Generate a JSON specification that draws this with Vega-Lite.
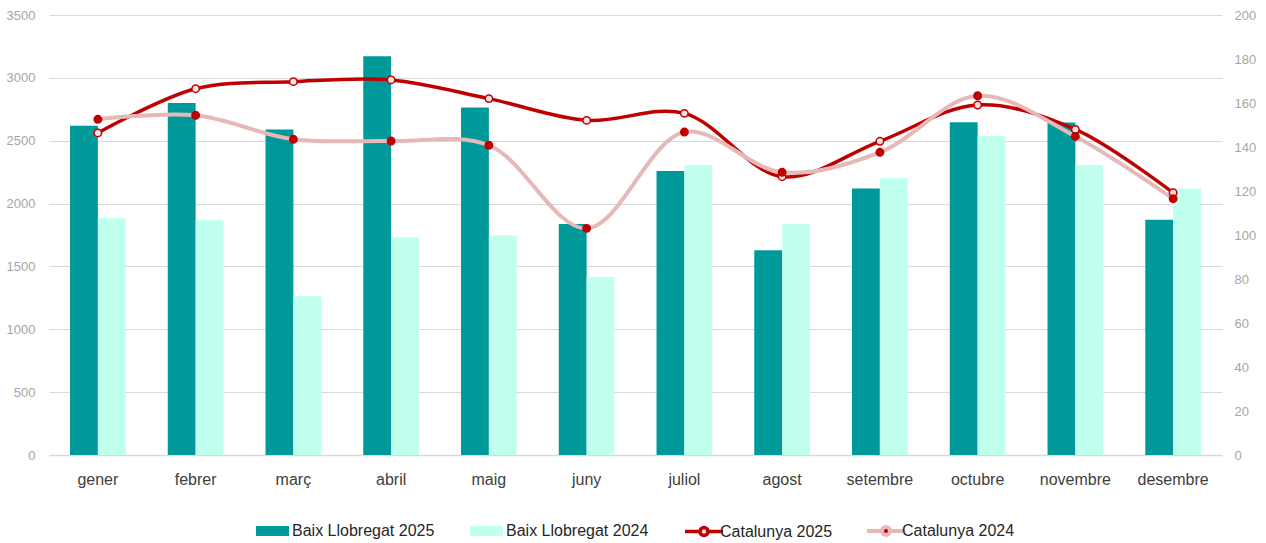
{
  "$schema": "https://vega.github.io/schema/vega-lite/v6.json",
  "width": 1173,
  "height": 440,
  "autosize": {"type": "none"},
  "padding": {"left": 49, "top": 15, "right": 44, "bottom": 88},
  "background": "white",
  "config": {
    "view": {"stroke": null},
    "font": "Liberation Sans",
    "axis": {"labelFont": "Liberation Sans", "titleFont": "Liberation Sans"},
    "legend": {"labelFont": "Liberation Sans"}
  },
  "datasets": {
    "bars": [
      {"month": "gener", "series": "Baix Llobregat 2025", "value": 2620},
      {"month": "febrer", "series": "Baix Llobregat 2025", "value": 2800},
      {"month": "març", "series": "Baix Llobregat 2025", "value": 2590},
      {"month": "abril", "series": "Baix Llobregat 2025", "value": 3172},
      {"month": "maig", "series": "Baix Llobregat 2025", "value": 2765},
      {"month": "juny", "series": "Baix Llobregat 2025", "value": 1838},
      {"month": "juliol", "series": "Baix Llobregat 2025", "value": 2259},
      {"month": "agost", "series": "Baix Llobregat 2025", "value": 1628},
      {"month": "setembre", "series": "Baix Llobregat 2025", "value": 2119},
      {"month": "octubre", "series": "Baix Llobregat 2025", "value": 2646},
      {"month": "novembre", "series": "Baix Llobregat 2025", "value": 2644},
      {"month": "desembre", "series": "Baix Llobregat 2025", "value": 1872},
      {"month": "gener", "series": "Baix Llobregat 2024", "value": 1885},
      {"month": "febrer", "series": "Baix Llobregat 2024", "value": 1872},
      {"month": "març", "series": "Baix Llobregat 2024", "value": 1262},
      {"month": "abril", "series": "Baix Llobregat 2024", "value": 1731},
      {"month": "maig", "series": "Baix Llobregat 2024", "value": 1747},
      {"month": "juny", "series": "Baix Llobregat 2024", "value": 1416},
      {"month": "juliol", "series": "Baix Llobregat 2024", "value": 2307},
      {"month": "agost", "series": "Baix Llobregat 2024", "value": 1837},
      {"month": "setembre", "series": "Baix Llobregat 2024", "value": 2203},
      {"month": "octubre", "series": "Baix Llobregat 2024", "value": 2540},
      {"month": "novembre", "series": "Baix Llobregat 2024", "value": 2307},
      {"month": "desembre", "series": "Baix Llobregat 2024", "value": 2119}
    ],
    "lines": [
      {"month": "gener", "series": "Catalunya 2025", "value": 146.4},
      {"month": "febrer", "series": "Catalunya 2025", "value": 166.5},
      {"month": "març", "series": "Catalunya 2025", "value": 169.7},
      {"month": "abril", "series": "Catalunya 2025", "value": 170.5},
      {"month": "maig", "series": "Catalunya 2025", "value": 162.0},
      {"month": "juny", "series": "Catalunya 2025", "value": 152.1},
      {"month": "juliol", "series": "Catalunya 2025", "value": 155.3},
      {"month": "agost", "series": "Catalunya 2025", "value": 126.5},
      {"month": "setembre", "series": "Catalunya 2025", "value": 142.6},
      {"month": "octubre", "series": "Catalunya 2025", "value": 159.1},
      {"month": "novembre", "series": "Catalunya 2025", "value": 148.0},
      {"month": "desembre", "series": "Catalunya 2025", "value": 119.2},
      {"month": "gener", "series": "Catalunya 2024", "value": 152.6},
      {"month": "febrer", "series": "Catalunya 2024", "value": 154.4},
      {"month": "març", "series": "Catalunya 2024", "value": 143.5},
      {"month": "abril", "series": "Catalunya 2024", "value": 142.7},
      {"month": "maig", "series": "Catalunya 2024", "value": 140.8},
      {"month": "juny", "series": "Catalunya 2024", "value": 103.0},
      {"month": "juliol", "series": "Catalunya 2024", "value": 146.8},
      {"month": "agost", "series": "Catalunya 2024", "value": 128.5},
      {"month": "setembre", "series": "Catalunya 2024", "value": 137.6},
      {"month": "octubre", "series": "Catalunya 2024", "value": 163.3},
      {"month": "novembre", "series": "Catalunya 2024", "value": 144.8},
      {"month": "desembre", "series": "Catalunya 2024", "value": 116.5}
    ]
  },
  "encoding": {
    "x": {
      "field": "month",
      "type": "nominal",
      "sort": ["gener", "febrer", "març", "abril", "maig", "juny", "juliol", "agost", "setembre", "octubre", "novembre", "desembre"],
      "scale": {"paddingInner": 0.43, "paddingOuter": 0.215},
      "axis": {
        "title": null,
        "labelAngle": 0,
        "labelFontSize": 16,
        "labelColor": "#404040",
        "labelPadding": 16,
        "ticks": false,
        "domainColor": "#D9D9D9",
        "domainWidth": 1.5,
        "grid": false
      }
    }
  },
  "layer": [
    {
      "data": {"name": "bars"},
      "mark": {"type": "bar"},
      "encoding": {
        "xOffset": {"field": "series", "type": "nominal", "sort": ["Baix Llobregat 2025", "Baix Llobregat 2024"], "scale": {"paddingInner": 0, "paddingOuter": 0}},
        "y": {
          "field": "value",
          "type": "quantitative",
          "scale": {"domain": [0, 3500], "nice": false},
          "axis": {
            "title": null,
            "orient": "left",
            "values": [0, 500, 1000, 1500, 2000, 2500, 3000, 3500],
            "format": "d",
            "domain": false,
            "ticks": false,
            "labelPadding": 14,
            "labelFontSize": 13,
            "labelColor": "#A6A6A6",
            "gridColor": "#D9D9D9",
            "gridWidth": 1
          }
        },
        "fill": {
          "field": "series",
          "type": "nominal",
          "scale": {"domain": ["Baix Llobregat 2025", "Baix Llobregat 2024"], "range": ["#009999", "#C1FFEE"]},
          "legend": {
            "title": null,
            "orient": "none",
            "direction": "horizontal",
            "legendX": 204,
            "legendY": 508,
            "symbolType": "M-1,-1H5.6V1H-1Z",
            "symbolSize": 100,
            "symbolStrokeWidth": 0,
            "labelOffset": 23,
            "labelFontSize": 16,
            "labelColor": "#262626",
            "columnPadding": 32
          }
        }
      }
    },
    {
      "data": {"name": "lines"},
      "encoding": {
        "y": {
          "field": "value",
          "type": "quantitative",
          "scale": {"domain": [0, 200], "nice": false},
          "axis": {
            "title": null,
            "orient": "right",
            "values": [0, 20, 40, 60, 80, 100, 120, 140, 160, 180, 200],
            "format": "d",
            "domain": false,
            "ticks": false,
            "grid": false,
            "labelPadding": 12,
            "labelFontSize": 13,
            "labelColor": "#A6A6A6"
          }
        }
      },
      "layer": [
        {
          "mark": {"type": "line", "interpolate": "catmull-rom", "strokeCap": "round"},
          "encoding": {
            "stroke": {
              "field": "series",
              "type": "nominal",
              "scale": {"domain": ["Catalunya 2025", "Catalunya 2024"], "range": ["#C00000", "#E6B8B7"]},
              "legend": {
                "title": null,
                "orient": "none",
                "direction": "horizontal",
                "legendX": 633,
                "legendY": 508,
                "symbolType": "M-1,0H2M3.6,0H6.6M3.6,0A0.8,0.8 0 1,1 2,0A0.8,0.8 0 1,1 3.6,0",
                "symbolSize": 100,
                "symbolStrokeWidth": 3.5,
                "labelOffset": 22,
                "labelFontSize": 16,
                "labelColor": "#262626",
                "columnPadding": 26,
                "encode": {
                  "symbols": {
                    "update": {
                      "fill": {"signal": "datum.value === 'Catalunya 2025' ? '#F7E3E3' : '#C00000'"}
                    }
                  }
                }
              }
            },
            "strokeWidth": {
              "field": "series",
              "type": "nominal",
              "scale": {"domain": ["Catalunya 2025", "Catalunya 2024"], "range": [3.5, 4]},
              "legend": null
            },
            "order": {"field": "series", "sort": "descending"}
          }
        },
        {
          "mark": {"type": "point", "filled": true, "size": 55, "strokeWidth": 1.5, "opacity": 1},
          "encoding": {
            "fill": {
              "condition": {"test": "datum.series === 'Catalunya 2025'", "value": "#F7E3E3"},
              "value": "#C00000"
            },
            "stroke": {"value": "#C00000"}
          }
        }
      ]
    }
  ],
  "resolve": {"scale": {"y": "independent"}}
}
